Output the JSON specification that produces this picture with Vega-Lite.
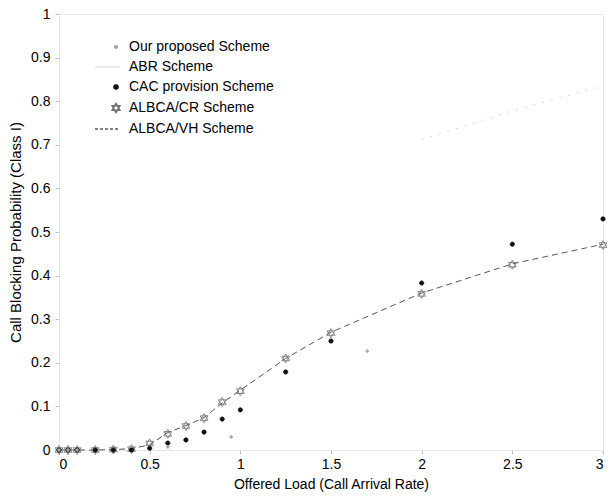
{
  "$schema": "https://vega.github.io/schema/vega-lite/v6.json",
  "width": 544,
  "height": 436,
  "autosize": {"type": "none"},
  "padding": {"left": 59, "top": 14, "right": 7, "bottom": 48},
  "background": "white",
  "config": {
    "font": "Liberation Sans",
    "view": {"stroke": "#e8e8e8", "strokeWidth": 1},
    "axis": {
      "grid": false,
      "domain": false,
      "tickColor": "#c0c0c0",
      "tickSize": 4,
      "labelColor": "#000",
      "titleColor": "#000",
      "labelFont": "Liberation Sans",
      "titleFont": "Liberation Sans",
      "labelFontSize": 14,
      "titleFontSize": 14,
      "titleFontWeight": "normal"
    },
    "legend": {
      "labelFont": "Liberation Sans",
      "labelFontSize": 14,
      "labelColor": "#000",
      "symbolSize": 36
    }
  },
  "data": {
    "values": [
      {"scheme": "ALBCA/CR Scheme", "load": 0, "pb": 0},
      {"scheme": "ALBCA/CR Scheme", "load": 0.05, "pb": 0},
      {"scheme": "ALBCA/CR Scheme", "load": 0.1, "pb": 0},
      {"scheme": "ALBCA/CR Scheme", "load": 0.2, "pb": 0},
      {"scheme": "ALBCA/CR Scheme", "load": 0.3, "pb": 0.001},
      {"scheme": "ALBCA/CR Scheme", "load": 0.4, "pb": 0.002},
      {"scheme": "ALBCA/CR Scheme", "load": 0.5, "pb": 0.015},
      {"scheme": "ALBCA/CR Scheme", "load": 0.6, "pb": 0.037},
      {"scheme": "ALBCA/CR Scheme", "load": 0.7, "pb": 0.055},
      {"scheme": "ALBCA/CR Scheme", "load": 0.8, "pb": 0.073},
      {"scheme": "ALBCA/CR Scheme", "load": 0.9, "pb": 0.11},
      {"scheme": "ALBCA/CR Scheme", "load": 1.0, "pb": 0.135},
      {"scheme": "ALBCA/CR Scheme", "load": 1.25, "pb": 0.21},
      {"scheme": "ALBCA/CR Scheme", "load": 1.5, "pb": 0.268},
      {"scheme": "ALBCA/CR Scheme", "load": 2.0, "pb": 0.358},
      {"scheme": "ALBCA/CR Scheme", "load": 2.5, "pb": 0.425},
      {"scheme": "ALBCA/CR Scheme", "load": 3.0, "pb": 0.47},
      {"scheme": "ALBCA/VH Scheme", "load": 0, "pb": 0},
      {"scheme": "ALBCA/VH Scheme", "load": 0.05, "pb": 0},
      {"scheme": "ALBCA/VH Scheme", "load": 0.1, "pb": 0},
      {"scheme": "ALBCA/VH Scheme", "load": 0.2, "pb": 0},
      {"scheme": "ALBCA/VH Scheme", "load": 0.3, "pb": 0.001},
      {"scheme": "ALBCA/VH Scheme", "load": 0.4, "pb": 0.003},
      {"scheme": "ALBCA/VH Scheme", "load": 0.5, "pb": 0.012},
      {"scheme": "ALBCA/VH Scheme", "load": 0.6, "pb": 0.04},
      {"scheme": "ALBCA/VH Scheme", "load": 0.7, "pb": 0.056},
      {"scheme": "ALBCA/VH Scheme", "load": 0.8, "pb": 0.074},
      {"scheme": "ALBCA/VH Scheme", "load": 0.9, "pb": 0.108},
      {"scheme": "ALBCA/VH Scheme", "load": 1.0, "pb": 0.137},
      {"scheme": "ALBCA/VH Scheme", "load": 1.25, "pb": 0.21},
      {"scheme": "ALBCA/VH Scheme", "load": 1.5, "pb": 0.27},
      {"scheme": "ALBCA/VH Scheme", "load": 2.0, "pb": 0.36},
      {"scheme": "ALBCA/VH Scheme", "load": 2.5, "pb": 0.427},
      {"scheme": "ALBCA/VH Scheme", "load": 3.0, "pb": 0.472},
      {"scheme": "CAC provision Scheme", "load": 0, "pb": 0},
      {"scheme": "CAC provision Scheme", "load": 0.05, "pb": 0},
      {"scheme": "CAC provision Scheme", "load": 0.1, "pb": 0},
      {"scheme": "CAC provision Scheme", "load": 0.2, "pb": 0},
      {"scheme": "CAC provision Scheme", "load": 0.3, "pb": 0},
      {"scheme": "CAC provision Scheme", "load": 0.4, "pb": 0},
      {"scheme": "CAC provision Scheme", "load": 0.5, "pb": 0.004},
      {"scheme": "CAC provision Scheme", "load": 0.6, "pb": 0.016},
      {"scheme": "CAC provision Scheme", "load": 0.7, "pb": 0.023},
      {"scheme": "CAC provision Scheme", "load": 0.8, "pb": 0.041},
      {"scheme": "CAC provision Scheme", "load": 0.9, "pb": 0.071},
      {"scheme": "CAC provision Scheme", "load": 1.0, "pb": 0.092},
      {"scheme": "CAC provision Scheme", "load": 1.25, "pb": 0.179},
      {"scheme": "CAC provision Scheme", "load": 1.5, "pb": 0.25},
      {"scheme": "CAC provision Scheme", "load": 2.0, "pb": 0.383},
      {"scheme": "CAC provision Scheme", "load": 2.5, "pb": 0.472},
      {"scheme": "CAC provision Scheme", "load": 3.0, "pb": 0.53},
      {"scheme": "Our proposed Scheme", "load": 0, "pb": 0},
      {"scheme": "Our proposed Scheme", "load": 0.05, "pb": 0},
      {"scheme": "Our proposed Scheme", "load": 0.1, "pb": 0},
      {"scheme": "Our proposed Scheme", "load": 0.6, "pb": 0.007},
      {"scheme": "Our proposed Scheme", "load": 0.95, "pb": 0.03},
      {"scheme": "Our proposed Scheme", "load": 1.7, "pb": 0.227},
      {"scheme": "ABR Scheme", "load": 2.0, "pb": 0.712},
      {"scheme": "ABR Scheme", "load": 2.5, "pb": 0.778},
      {"scheme": "ABR Scheme", "load": 3.0, "pb": 0.835}
    ]
  },
  "encoding": {
    "x": {
      "field": "load",
      "type": "quantitative",
      "scale": {"domain": [0, 3], "nice": false, "zero": false},
      "axis": {
        "values": [0, 0.5, 1, 1.5, 2, 2.5, 3],
        "format": "~g",
        "labelPadding": 3,
        "title": "Offered Load (Call Arrival Rate)",
        "titlePadding": 6
      }
    },
    "y": {
      "field": "pb",
      "type": "quantitative",
      "scale": {"domain": [0, 1], "nice": false},
      "axis": {
        "values": [0, 0.1, 0.2, 0.3, 0.4, 0.5, 0.6, 0.7, 0.8, 0.9, 1],
        "format": "~g",
        "labelPadding": 5,
        "title": "Call Blocking Probability (Class I)",
        "titleFontSize": 15,
        "titlePadding": 7
      }
    }
  },
  "layer": [
    {
      "transform": [{"filter": "datum.scheme === 'ABR Scheme'"}],
      "mark": {"type": "line", "color": "#d4d4d4", "strokeWidth": 1, "strokeDash": [2, 7]},
      "encoding": {}
    },
    {
      "transform": [{"filter": "datum.scheme === 'ALBCA/VH Scheme'"}],
      "mark": {"type": "line", "color": "#555555", "strokeWidth": 1, "strokeDash": [6, 4]},
      "encoding": {}
    },
    {
      "transform": [{"filter": "datum.scheme === 'ALBCA/CR Scheme' || datum.scheme === 'CAC provision Scheme' || datum.scheme === 'Our proposed Scheme'"}],
      "mark": {"type": "point", "strokeWidth": 0.9, "opacity": 1, "size": 36},
      "encoding": {
        "fill": {
          "field": "scheme",
          "type": "nominal",
          "scale": {
            "domain": ["Our proposed Scheme", "ABR Scheme", "CAC provision Scheme", "ALBCA/CR Scheme", "ALBCA/VH Scheme"],
            "range": ["#a8a8a8", "transparent", "#111111", "transparent", "transparent"]
          },
          "legend": {
            "title": null,
            "orient": "none",
            "legendX": 50,
            "legendY": 26,
            "labelOffset": 6,
            "rowPadding": 6,
            "padding": 0
          }
        },
        "stroke": {
          "field": "scheme",
          "type": "nominal",
          "scale": {
            "domain": ["Our proposed Scheme", "ABR Scheme", "CAC provision Scheme", "ALBCA/CR Scheme", "ALBCA/VH Scheme"],
            "range": ["#a8a8a8", "#e2e2e2", "#111111", "#707070", "#555555"]
          },
          "legend": {"title": null}
        },
        "shape": {
          "field": "scheme",
          "type": "nominal",
          "scale": {
            "domain": ["Our proposed Scheme", "ABR Scheme", "CAC provision Scheme", "ALBCA/CR Scheme", "ALBCA/VH Scheme"],
            "range": [
              "M-0.45,0A0.45,0.45 0 1,0 0.45,0A0.45,0.45 0 1,0 -0.45,0Z",
              "M-7,0L1.2,0",
              "M-0.7,0A0.7,0.7 0 1,0 0.7,0A0.7,0.7 0 1,0 -0.7,0Z",
              "M0,-1.5L1.3,0.75L-1.3,0.75Z M0,1.5L-1.3,-0.75L1.3,-0.75Z",
              "M-7,0L1.2,0"
            ]
          },
          "legend": {"title": null}
        },
        "strokeDash": {
          "field": "scheme",
          "type": "nominal",
          "scale": {
            "domain": ["Our proposed Scheme", "ABR Scheme", "CAC provision Scheme", "ALBCA/CR Scheme", "ALBCA/VH Scheme"],
            "range": [[1, 0], [1, 0], [1, 0], [1, 0], [3, 2]]
          },
          "legend": {"title": null}
        }
      }
    }
  ]
}
